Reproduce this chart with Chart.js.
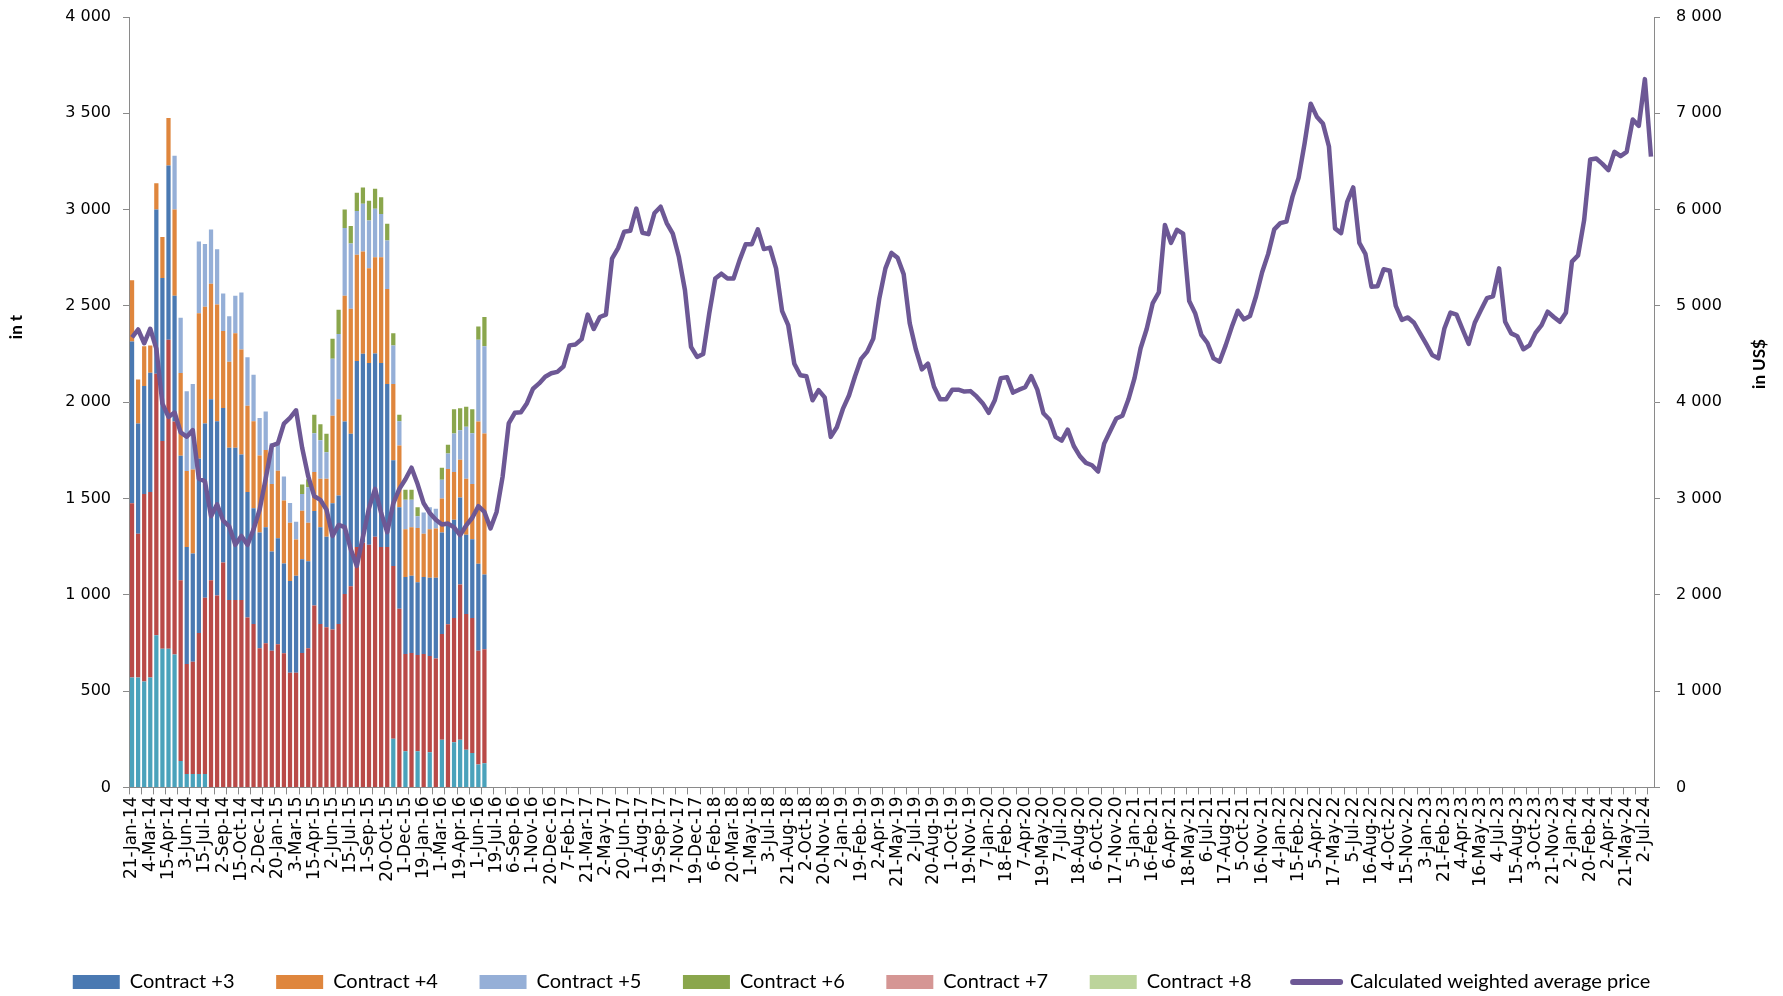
<!DOCTYPE html>
<html>
<head>
<meta charset="utf-8">
<script src="https://cdn.jsdelivr.net/npm/chart.js@4.4.1/dist/chart.umd.min.js"></script>
<style>
  html, body { margin: 0; padding: 0; background: #fff; }
</style>
</head>
<body>
<canvas id="chart" width="1783" height="996"></canvas>
<script>
// x axis: one category per auction, a label on every third one
const tickLabels = ['21-Jan-14','4-Mar-14','15-Apr-14','3-Jun-14','15-Jul-14','2-Sep-14','15-Oct-14','2-Dec-14','20-Jan-15','3-Mar-15','15-Apr-15','2-Jun-15','15-Jul-15','1-Sep-15','20-Oct-15','1-Dec-15','19-Jan-16','1-Mar-16','19-Apr-16','1-Jun-16','19-Jul-16','6-Sep-16','1-Nov-16','20-Dec-16','7-Feb-17','21-Mar-17','2-May-17','20-Jun-17','1-Aug-17','19-Sep-17','7-Nov-17','19-Dec-17','6-Feb-18','20-Mar-18','1-May-18','3-Jul-18','21-Aug-18','2-Oct-18','20-Nov-18','2-Jan-19','19-Feb-19','2-Apr-19','21-May-19','2-Jul-19','20-Aug-19','1-Oct-19','19-Nov-19','7-Jan-20','18-Feb-20','7-Apr-20','19-May-20','7-Jul-20','18-Aug-20','6-Oct-20','17-Nov-20','5-Jan-21','16-Feb-21','6-Apr-21','18-May-21','6-Jul-21','17-Aug-21','5-Oct-21','16-Nov-21','4-Jan-22','15-Feb-22','5-Apr-22','17-May-22','5-Jul-22','16-Aug-22','4-Oct-22','15-Nov-22','3-Jan-23','21-Feb-23','4-Apr-23','16-May-23','4-Jul-23','15-Aug-23','3-Oct-23','21-Nov-23','2-Jan-24','20-Feb-24','2-Apr-24','21-May-24','2-Jul-24'];
const categoryCount = 251;

// volumes in t (left axis), 2014 - mid 2016
const contract1 = [570,570,550,570,790,720,720,690,137,69,69,69,69,0,0,0,0,0,0,0,0,0,0,0,0,0,0,0,0,0,0,0,0,0,0,0,0,0,0,0,0,0,0,252,0,188,0,188,0,183,0,247,0,234,247,195,179,119,126];
const contract2 = [905,747,973,964,1358,1078,1604,1210,939,572,583,733,916,1076,996,1168,973,973,973,882,848,722,749,710,743,697,595,595,698,722,945,848,832,820,848,1004,1045,1248,1270,1260,1301,1248,1248,898,927,504,698,499,692,499,669,550,847,645,806,705,700,591,591];
const contract3 = [840,572,561,619,852,847,905,653,646,607,562,904,904,939,905,802,790,790,756,652,602,602,602,515,551,465,477,504,486,452,490,503,469,655,668,896,791,966,981,943,952,955,847,549,527,400,401,378,400,406,419,527,527,511,452,412,410,451,389];
const contract4 = [318,229,206,142,137,213,247,447,430,395,436,756,607,600,606,400,447,595,545,447,451,399,401,350,350,327,302,188,252,200,202,252,302,454,499,653,649,552,531,493,500,550,493,396,321,248,252,282,225,252,256,176,279,247,196,291,286,739,731];
const contract5 = [0,0,0,0,0,0,0,279,287,414,445,373,325,282,287,195,236,195,295,252,241,195,200,212,137,125,103,92,87,184,202,199,137,296,339,351,339,227,248,247,251,224,252,200,126,153,142,61,110,114,103,98,81,200,154,270,264,424,453];
const contract6 = [0,0,0,0,0,0,0,0,0,0,0,0,0,0,0,0,0,0,0,0,0,0,0,0,0,0,0,0,50,42,96,83,96,105,126,96,91,94,85,103,104,87,87,63,34,53,53,46,0,0,0,62,45,126,114,103,124,69,153];
const contract7 = [];
const contract8 = [];

// calculated weighted average price in US$ (right axis)
const avgPrice = [
  4672,4755,4612,4763,4557,3985,3847,3893,3687,3641,3710,3206,3179,2817,2940,2771,2711,2519,2611,2519,
  2679,2885,3206,3549,3572,3778,3838,3916,3527,3229,3023,2986,2885,2611,2725,2702,2473,2300,2600,2900,
  3100,2850,2650,2950,3100,3200,3320,3150,2950,2850,2780,2730,2740,2700,2620,2720,2800,2920,2860,
  2690,2860,3230,3780,3890,3895,3990,4140,4195,4265,4300,4315,4370,4590,4600,4655,4910,4760,4885,4910,
  5490,5600,5770,5780,6010,5760,5745,5965,6030,5860,5750,5510,5165,4575,4470,4500,4920,5285,5335,5285,
  5285,5475,5640,5640,5795,5590,5605,5390,4945,4800,4400,4280,
  4270,4020,4125,4050,3640,3740,3930,4070,4270,4450,4525,4660,5080,5390,5550,5500,5330,4820,4550,4340,
  4400,4160,4030,4030,4130,4130,4110,4115,4060,3990,3890,4020,4250,4260,4100,4130,4155,4270,4130,3885,
  3820,3640,3600,3715,3545,3440,3370,3345,3280,3570,
  3700,3830,3860,4030,4250,4560,4760,5030,5140,5840,5655,5790,5750,5050,4920,4700,4615,4455,4420,4590,
  4780,4950,4860,4895,5100,5350,5540,5795,5860,5875,6135,6330,6690,7100,6965,6895,6655,5805,5755,6080,
  6230,5655,5540,5200,5205,5380,5365,5000,4855,
  4880,4825,4715,4605,4490,4455,4765,4930,4910,4755,4605,4825,4955,5080,5100,5390,4835,4715,4685,4550,
  4590,4720,4800,4940,4885,4835,4930,5460,5525,5890,6520,6530,6475,6410,6600,6555,6600,6935,6870,7355,
  6550
];

const categories = [];
for (let i = 0; i < categoryCount; i++) {
  categories.push(i % 3 === 0 ? tickLabels[i / 3] : '');
}

Chart.defaults.font.family = "'DejaVu Sans'";
Chart.defaults.font.size = 16;
Chart.defaults.color = '#000';

const axisGrey = '#8a8a8a';
const spaced = v => String(v).replace(/\B(?=(\d{3})+(?!\d))/g, ' ');

function barSet(label, data, color) {
  return {
    type: 'bar', label: label, data: data, yAxisID: 'y',
    backgroundColor: color, borderWidth: 0, stack: 'vol',
    barPercentage: 0.7, categoryPercentage: 1
  };
}

// axis titles sit above the middle of the axes, as in the source
const axisTitles = {
  id: 'axisTitles',
  afterDraw(chart) {
    const c = chart.ctx;
    const area = chart.chartArea;
    c.save();
    c.font = 'bold 17px Lato';
    c.fillStyle = '#000';
    c.textAlign = 'center';
    c.textBaseline = 'middle';
    [['in t', 17, area.top + 310], ['in US$', 1760, area.top + 347]].forEach(([t, x, y]) => {
      c.save();
      c.translate(x, y);
      c.rotate(-Math.PI / 2);
      c.fillText(t, 0, 0);
      c.restore();
    });
    c.restore();
  }
};

// keep the plot top at the layout padding instead of the label overhang
function fixVertical(width) {
  return s => { s.width = width; s.paddingTop = 0; s.paddingBottom = 0; };
}

new Chart(document.getElementById('chart'), {
  type: 'bar',
  plugins: [axisTitles],
  data: {
    labels: categories,
    datasets: [
      barSet('Contract +1', contract1, '#4AA2BB'),
      barSet('Contract +2', contract2, '#B94A48'),
      barSet('Contract +3', contract3, '#4A79B2'),
      barSet('Contract +4', contract4, '#DF863D'),
      barSet('Contract +5', contract5, '#95AFD7'),
      barSet('Contract +6', contract6, '#8AA64C'),
      barSet('Contract +7', contract7, '#D59694'),
      barSet('Contract +8', contract8, '#BCD49B'),
      {
        type: 'line', label: 'Calculated weighted average price', data: avgPrice, yAxisID: 'y1',
        borderColor: '#6D5895', backgroundColor: '#6D5895', borderWidth: 4.5,
        pointRadius: 0, tension: 0, order: -1, borderJoinStyle: 'round'
      }
    ]
  },
  options: {
    responsive: false,
    animation: false,
    devicePixelRatio: 1,
    layout: { padding: { top: 17, bottom: -6, left: -60, right: 0 } },
    plugins: {
      tooltip: { enabled: false },
      legend: {
        position: 'bottom',
        labels: {
          usePointStyle: true,
          pointStyleWidth: 47,
          boxHeight: 14,
          padding: 41.6,
          color: '#000',
          font: { family: 'Lato', size: 20 },
          filter: item => item.datasetIndex >= 2,
          sort: (a, b) => a.datasetIndex - b.datasetIndex,
          generateLabels: chart => {
            const items = Chart.defaults.plugins.legend.labels.generateLabels(chart);
            items.forEach(it => {
              const ds = chart.data.datasets[it.datasetIndex];
              if (ds.type === 'line') {
                it.pointStyle = 'line';
                it.lineWidth = 6;
                it.strokeStyle = ds.borderColor;
                it.lineCap = 'round';
              } else {
                it.pointStyle = 'rect';
              }
            });
            return items;
          }
        }
      }
    },
    scales: {
      x: {
        stacked: true,
        offset: true,
        grid: {
          offset: true,
          drawOnChartArea: false,
          tickLength: 7,
          color: ctx => (ctx.index % 2 === 0 ? axisGrey : 'rgba(0,0,0,0)')
        },
        border: { color: axisGrey },
        ticks: {
          autoSkip: false, maxRotation: 90, minRotation: 90, padding: 2, color: '#000',
          font: { family: "'DejaVu Sans'", size: 17 }
        },
        afterFit: s => { s.height = 143; }
      },
      y: {
        position: 'left',
        stacked: true,
        min: 0, max: 4000,
        grid: { drawOnChartArea: false, tickLength: 6, color: axisGrey },
        border: { color: axisGrey },
        ticks: {
          stepSize: 500, padding: 12, color: '#000', callback: spaced,
          font: { family: "'DejaVu Sans'", size: 16 }
        },
        afterFit: fixVertical(189)
      },
      y1: {
        position: 'right',
        min: 0, max: 8000,
        grid: { drawOnChartArea: false, tickLength: 6, color: axisGrey },
        border: { color: axisGrey },
        ticks: {
          stepSize: 1000, padding: 16, color: '#000', callback: spaced,
          font: { family: "'DejaVu Sans'", size: 16 }
        },
        afterFit: fixVertical(129)
      }
    }
  }
});
</script>
</body>
</html>
